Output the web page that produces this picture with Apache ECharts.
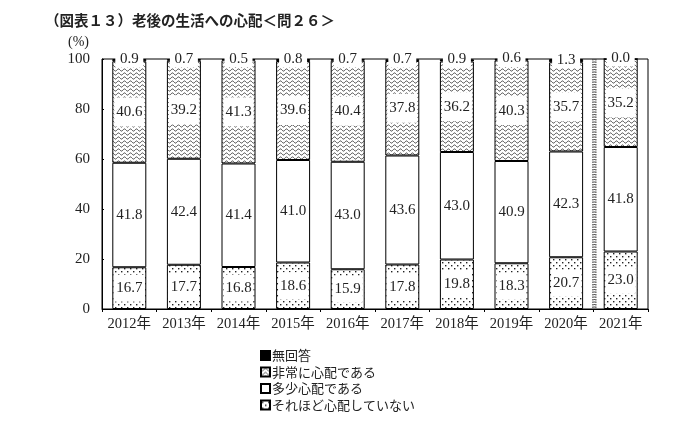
<!DOCTYPE html>
<html>
<head>
<meta charset="utf-8">
<script src="https://cdn.jsdelivr.net/npm/echarts@6/dist/echarts.min.js"></script>
<style>html,body{margin:0;padding:0;background:#fff}#c{width:700px;height:422px}</style>
</head>
<body>
<div id="c"></div>
<script>
const categories = ['2012年','2013年','2014年','2015年','2016年','2017年','2018年','2019年','2020年','2021年'];
const seriesNames = ['無回答','非常に心配である','多少心配である','それほど心配していない'];
const notWorried = [16.7,17.7,16.8,18.6,15.9,17.8,19.8,18.3,20.7,23.0];
const somewhatWorried = [41.8,42.4,41.4,41.0,43.0,43.6,43.0,40.9,42.3,41.8];
const veryWorried = [40.6,39.2,41.3,39.6,40.4,37.8,36.2,40.3,35.7,35.2];
const noAnswer = [0.9,0.7,0.5,0.8,0.7,0.7,0.9,0.6,1.3,0.0];
const yTicks = [0,20,40,60,80,100];

function wavePattern(){
  const c = document.createElement('canvas');
  c.width = 6; c.height = 4;
  const g = c.getContext('2d');
  g.fillStyle = '#fff'; g.fillRect(0,0,6,4);
  g.strokeStyle = '#222'; g.lineWidth = 0.8;
  g.beginPath();
  for (let x = 0; x <= 6; x += 0.5) {
    const y = 2 + 1.1 * Math.sin(2 * Math.PI * x / 6);
    if (x === 0) g.moveTo(x, y); else g.lineTo(x, y);
  }
  g.stroke();
  return c;
}
function dotPattern(){
  const c = document.createElement('canvas');
  c.width = 6; c.height = 6;
  const g = c.getContext('2d');
  g.fillStyle = '#fff'; g.fillRect(0,0,6,6);
  g.fillStyle = '#222';
  g.fillRect(1,1,1.4,1.4);
  g.fillRect(4,4,1.4,1.4);
  return c;
}

const numFont = '"Liberation Serif", "DejaVu Serif", "Noto Sans CJK JP", serif';
const jpFont = '"Noto Sans CJK JP", sans-serif';

function labelCfg(bg, extra){
  return Object.assign({
    show: true,
    position: 'inside',
    color: '#222',
    fontFamily: numFont,
    fontSize: 15,
    formatter: p => Number(p.value).toFixed(1),
    backgroundColor: bg ? '#fff' : 'transparent',
    width: 30,
    align: 'center',
    padding: bg ? [6, 0] : 0
  }, extra || {});
}

const chart = echarts.init(document.getElementById('c'), null, {renderer: 'canvas'});
const barW = 34;
const labelGraphic = {type: 'text', left: 68, top: 35, style: {text: '(%)', font: '14px ' + numFont, fill: '#222'}};
const option = {
  animation: false,
  backgroundColor: '#fff',
  title: {
    text: '（図表１３）老後の生活への心配＜問２６＞',
    left: 40, top: 8,
    textStyle: {fontFamily: jpFont, fontWeight: 'bold', fontSize: 14.5, color: '#222'}
  },
  grid: {left: 102, right: 52, top: 59, bottom: 113, show: true, borderColor: '#000', borderWidth: 1, backgroundColor: 'transparent'},
  legend: {
    orient: 'vertical', left: 260, top: 349, height: 80, padding: 0,
    data: seriesNames,
    itemWidth: 9, itemHeight: 9, itemGap: 3.5,
    icon: 'rect',
    textStyle: {fontFamily: jpFont, fontSize: 13, color: '#222', lineHeight: 13, padding: [0,0,0,-3]}
  },
  xAxis: {
    type: 'category', data: categories,
    axisLine: {lineStyle: {color: '#000', width: 1}},
    axisTick: {show: true, interval: 0, length: 3, lineStyle: {color: '#000'}},
    axisLabel: {interval: 0, fontFamily: numFont, fontSize: 14.5, color: '#222', margin: 8}
  },
  yAxis: {
    type: 'value', min: yTicks[0], max: yTicks[yTicks.length-1], interval: 20,
    axisLine: {show: true, lineStyle: {color: '#000', width: 1}},
    axisTick: {show: true, inside: true, length: 2, lineStyle: {color: '#000'}},
    splitLine: {show: false},
    axisLabel: {fontFamily: numFont, fontSize: 15, color: '#222', margin: 12}
  },
  graphic: [labelGraphic],
  series: [
    {
      name: seriesNames[3], type: 'bar', stack: 'a', barWidth: barW, data: notWorried,
      itemStyle: {color: {image: dotPattern(), repeat: 'repeat'}, borderColor: '#000', borderWidth: 1},
      label: labelCfg(true)
    },
    {
      name: seriesNames[2], type: 'bar', stack: 'a', barWidth: barW, data: somewhatWorried,
      itemStyle: {color: '#fff', borderColor: '#000', borderWidth: 1},
      label: labelCfg(false)
    },
    {
      name: seriesNames[1], type: 'bar', stack: 'a', barWidth: barW, data: veryWorried,
      itemStyle: {color: {image: wavePattern(), repeat: 'repeat'}, borderColor: '#000', borderWidth: 1},
      label: labelCfg(true, {padding: [7, 0]})
    },
    {
      name: seriesNames[0], type: 'bar', stack: 'a', barWidth: barW, data: noAnswer,
      itemStyle: {color: '#000', borderColor: '#000', borderWidth: 1},
      label: labelCfg(true, {padding: [1, 0], width: 28, offset: [0, -1]})
    }
  ]
};
chart.setOption(option);

// separator between 2020 and 2021 derived from the axis scale
const xa = chart.convertToPixel({xAxisIndex: 0}, categories[8]);
const xb = chart.convertToPixel({xAxisIndex: 0}, categories[9]);
const yTop = chart.convertToPixel({yAxisIndex: 0}, yTicks[yTicks.length-1]);
const yBot = chart.convertToPixel({yAxisIndex: 0}, yTicks[0]);
const sx = (xa + xb) / 2 + 1;
chart.setOption({
  graphic: [
    labelGraphic,
    {type: 'line', shape: {x1: sx - 1.5, y1: yTop, x2: sx - 1.5, y2: yBot}, style: {stroke: '#333', lineWidth: 1, lineDash: [1.5, 1]}},
    {type: 'line', shape: {x1: sx + 1.5, y1: yTop, x2: sx + 1.5, y2: yBot}, style: {stroke: '#333', lineWidth: 1, lineDash: [1.5, 1]}},
    {type: 'line', shape: {x1: sx, y1: yTop, x2: sx, y2: yBot}, style: {stroke: '#555', lineWidth: 2, lineDash: [1, 1.5]}}
  ]
});
</script>
</body>
</html>
